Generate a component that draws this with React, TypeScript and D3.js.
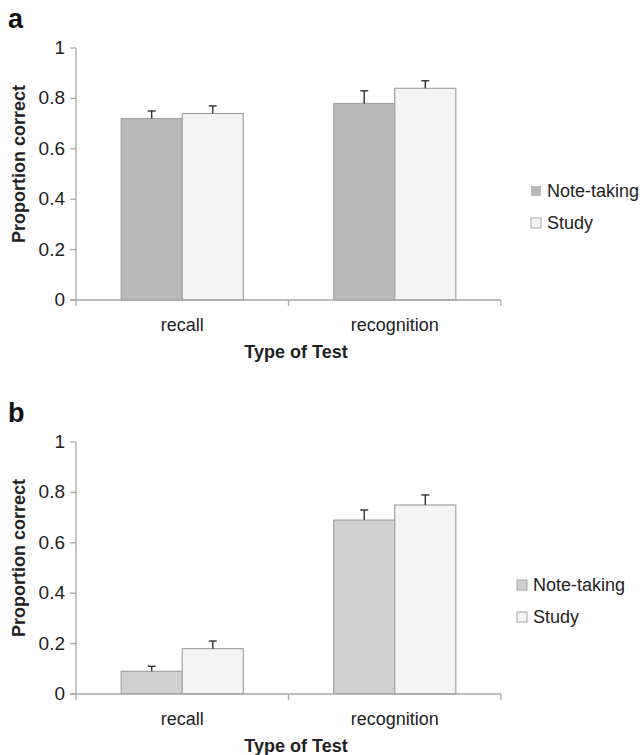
import React from "react";
import * as d3 from "d3";

// values
const testTypes = ["recall", "recognition"];
const seriesNames = ["Note-taking", "Study"];
const yTicks = [0, 0.2, 0.4, 0.6, 0.8, 1];

// panel a
const noteA = [0.72, 0.78];
const noteErrA = [0.03, 0.05];
const studyA = [0.74, 0.84];
const studyErrA = [0.03, 0.03];

// panel b
const noteB = [0.09, 0.69];
const noteErrB = [0.02, 0.04];
const studyB = [0.18, 0.75];
const studyErrB = [0.03, 0.04];

const FONT = "'Liberation Sans', Arial, Helvetica, sans-serif";
const AXIS = "#a9a9a9";
const TEXT = "#222";

function Panel(props: any) {
  const { top, letter, note, noteErr, study, studyErr, noteFill, legendX } = props;
  const left = 76, right = 501;
  const y0 = top + 300, y1 = top + 48;

  const x = d3.scaleBand().domain(testTypes).range([left, right]);
  const inner = d3.scaleBand().domain(seriesNames).range([0, x.bandwidth()]).paddingOuter(0.74).paddingInner(0);
  const y = d3.scaleLinear().domain([0, 1]).range([y0, y1]);

  const series = [
    { name: seriesNames[0], vals: note, errs: noteErr, fill: noteFill, stroke: "#a3a3a3" },
    { name: seriesNames[1], vals: study, errs: studyErr, fill: "#f4f4f4", stroke: "#a3a3a3" },
  ];
  const bw = inner.bandwidth();
  const boundaries = [left, ...testTypes.map((t) => (x(t) as number) + x.bandwidth())];

  return (
    <g>
      <text x={8} y={top + 28} fontFamily={FONT} fontWeight="bold" fontSize={27} fill="#111">{letter}</text>
      {/* bars */}
      {series.map((s) =>
        testTypes.map((t, i) => {
          const bx = (x(t) as number) + (inner(s.name) as number);
          const by = y(s.vals[i]);
          const ey = y(s.vals[i] + s.errs[i]);
          const cx = bx + bw / 2;
          return (
            <g key={s.name + t}>
              <rect x={bx} y={by} width={bw} height={y0 - by} fill={s.fill} stroke={s.stroke} strokeWidth={1.2} />
              <line x1={cx} x2={cx} y1={by} y2={ey} stroke="#333" strokeWidth={1.4} />
              <line x1={cx - 4} x2={cx + 4} y1={ey} y2={ey} stroke="#333" strokeWidth={1.4} />
            </g>
          );
        })
      )}
      {/* y axis */}
      <line x1={left} x2={left} y1={y1} y2={y0} stroke={AXIS} strokeWidth={1.3} />
      {yTicks.map((v) => (
        <g key={v}>
          <line x1={left - 6} x2={left} y1={y(v)} y2={y(v)} stroke={AXIS} strokeWidth={1.3} />
          <text x={65} y={y(v) + 6} textAnchor="end" fontFamily={FONT} fontSize={19} fill={TEXT}>{String(v)}</text>
        </g>
      ))}
      {/* x axis */}
      <line x1={left - 6} x2={right} y1={y0} y2={y0} stroke={AXIS} strokeWidth={1.3} />
      {boundaries.map((bx, i) => (
        <line key={i} x1={bx} x2={bx} y1={y0} y2={y0 + 6} stroke={AXIS} strokeWidth={1.3} />
      ))}
      {testTypes.map((t) => (
        <text key={t} x={(x(t) as number) + x.bandwidth() / 2} y={y0 + 31} textAnchor="middle" fontFamily={FONT} fontSize={18} fill={TEXT}>{t}</text>
      ))}
      <text x={296} y={y0 + 58} textAnchor="middle" fontFamily={FONT} fontWeight="bold" fontSize={18} fill={TEXT}>Type of Test</text>
      <text transform={`translate(25,${y0 - 136}) rotate(-90)`} textAnchor="middle" fontFamily={FONT} fontWeight="bold" fontSize={18} fill={TEXT}>Proportion correct</text>
      {/* legend */}
      {series.map((s, i) => (
        <g key={s.name}>
          <rect x={legendX} y={y0 - 114 + i * 32} width={10} height={10} fill={s.fill} stroke={i === 0 && letter === "a" ? "none" : s.stroke} strokeWidth={1} />
          <text x={legendX + 16} y={y0 - 103 + i * 32} fontFamily={FONT} fontSize={18} fill={TEXT}>{s.name}</text>
        </g>
      ))}
    </g>
  );
}

export default function App() {
  return (
    <svg width={644} height={755} style={{ position: "absolute", left: 0, top: 0, background: "#fff" }}>
      <Panel top={0} letter="a" note={noteA} noteErr={noteErrA} study={studyA} studyErr={studyErrA} noteFill="#b9b9b9" legendX={531} />
      <Panel top={394} letter="b" note={noteB} noteErr={noteErrB} study={studyB} studyErr={studyErrB} noteFill="#cfd0cf" legendX={517} />
    </svg>
  );
}
